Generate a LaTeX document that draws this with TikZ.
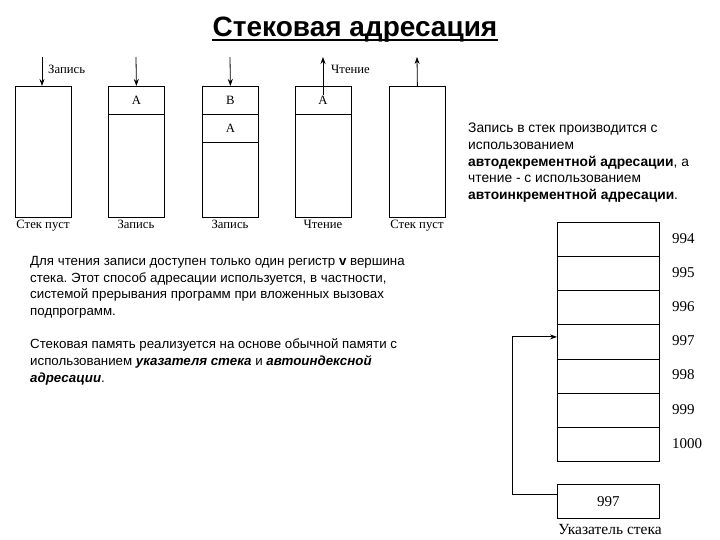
\documentclass[tikz,border=0pt]{standalone}
\usepackage{fontspec}
\setmainfont{Liberation Serif}
\newfontfamily\sansf{Liberation Sans}
\usetikzlibrary{arrows.meta}
\frenchspacing
\begin{document}
\begin{tikzpicture}[x=1pt,y=-1pt,
  stackbox/.style={draw,line width=0.8pt,minimum width=56pt,anchor=north west,inner sep=0pt},
  membox/.style={draw,line width=0.8pt,minimum width=102pt,minimum height=34.14pt,anchor=north west,inner sep=0pt},
  arr/.style={line width=0.8pt,-{Stealth[length=7pt,width=5pt]}},
  lbl/.style={font=\fontsize{12.7}{13}\selectfont,inner sep=0pt},
  numlbl/.style={font=\fontsize{15}{15}\selectfont,anchor=west,inner sep=0pt},
  body/.style={font=\sansf\fontsize{13.3}{16.7}\selectfont,align=left,anchor=north west,inner sep=0pt}]
\useasboundingbox (0,0) rectangle (720,540);
% title
\node[inner sep=0pt,anchor=base] (title) at (355,37) {\sansf\bfseries\fontsize{28}{30}\selectfont Стековая адресация};
\draw[line width=1.8pt] ([yshift=-3pt]title.base west) -- ([yshift=-3pt]title.base east);
% stack 1
\node[stackbox,minimum height=131pt] (s1) at (15,86) {};
% stack 2
\node[stackbox,minimum height=28pt,lbl] (s2a) at (108,86) {A};
\node[stackbox,minimum height=103pt] (s2b) at (108,114) {};
% stack 3
\node[stackbox,minimum height=28pt,lbl] (s3a) at (202,86) {B};
\node[stackbox,minimum height=28pt,lbl] (s3b) at (202,114) {A};
\node[stackbox,minimum height=75pt] (s3c) at (202,142) {};
% stack 4
\node[stackbox,minimum height=28pt] (s4a) at (295,86) {};
\node[stackbox,minimum height=103pt] (s4b) at (295,114) {};
\node[lbl,fill=white,inner sep=0.5pt] (s4t) at (323,100) {A};
% stack 5
\node[stackbox,minimum height=131pt] (s5) at (389,86) {};
% arrows
\coordinate (a1) at (42,57);
\coordinate (a2) at (136,57);
\coordinate (a3) at (230,57);
\coordinate (a4) at (323,57);
\coordinate (a5) at (417,57);
\draw[arr] (a1) -- (a1 |- s1.north);
\draw[arr] (a2) -- (s2a.north);
\draw[arr] (a3) -- (s3a.north);
\draw[arr] (s4t.north) -- (a4);
\draw[arr] (s5.north) -- (a5);
\node[lbl,anchor=base west] (t1) at (48,74) {Запись};
\node[lbl,anchor=base west] (t4) at (331,74) {Чтение};
% bottom labels
\node[lbl,anchor=base] (b1) at (43,229) {Стек пуст};
\node[lbl,anchor=base] (b2) at (136,229) {Запись};
\node[lbl,anchor=base] (b3) at (230,229) {Запись};
\node[lbl,anchor=base] (b4) at (323,229) {Чтение};
\node[lbl,anchor=base] (b5) at (417,229) {Стек пуст};
% right text
\node[body,font=\sansf\fontsize{13.8}{16.7}\selectfont] (rt) at (468,123) {Запись в стек производится с\\использованием\\\textbf{автодекрементной адресации}, а\\чтение - с использованием\\\textbf{автоинкрементной адресации}.};
% left text
\node[body] (lt) at (30,256) {Для чтения записи доступен только один регистр \textbf{v} вершина\\стека. Этот способ адресации используется, в частности,\\системой прерывания программ при вложенных вызовах\\подпрограмм.\\[16.7pt]Стековая память реализуется на основе обычной памяти с\\использованием \textbf{\textit{указателя стека}} и \textbf{\textit{автоиндексной}}\\\textbf{\textit{адресации}}.};
% memory
\node[membox] (m1) at (557,222) {};
\node[membox] (m2) at (557,256.14) {};
\node[membox] (m3) at (557,290.28) {};
\node[membox] (m4) at (557,324.42) {};
\node[membox] (m5) at (557,358.56) {};
\node[membox] (m6) at (557,392.7) {};
\node[membox] (m7) at (557,426.84) {};
\node[numlbl] (n1) at ([xshift=12pt,yshift=1pt]m1.east) {994};
\node[numlbl] (n2) at ([xshift=12pt,yshift=1pt]m2.east) {995};
\node[numlbl] (n3) at ([xshift=12pt,yshift=1pt]m3.east) {996};
\node[numlbl] (n4) at ([xshift=12pt,yshift=1pt]m4.east) {997};
\node[numlbl] (n5) at ([xshift=12pt,yshift=1pt]m5.east) {998};
\node[numlbl] (n6) at ([xshift=12pt,yshift=1pt]m6.east) {999};
\node[numlbl] (n7) at ([xshift=12pt,yshift=1pt]m7.east) {1000};
% pointer
\node[membox,font=\fontsize{15}{15}\selectfont] (p) at (557,484) {997};
\node[inner sep=0pt,font=\fontsize{15.5}{16}\selectfont] (pl) at (610,529) {Указатель стека};
\draw[arr] ([yshift=7pt]p.west) -- ++(-45,0) |- ([yshift=5pt]m4.west);
\end{tikzpicture}
\end{document}
